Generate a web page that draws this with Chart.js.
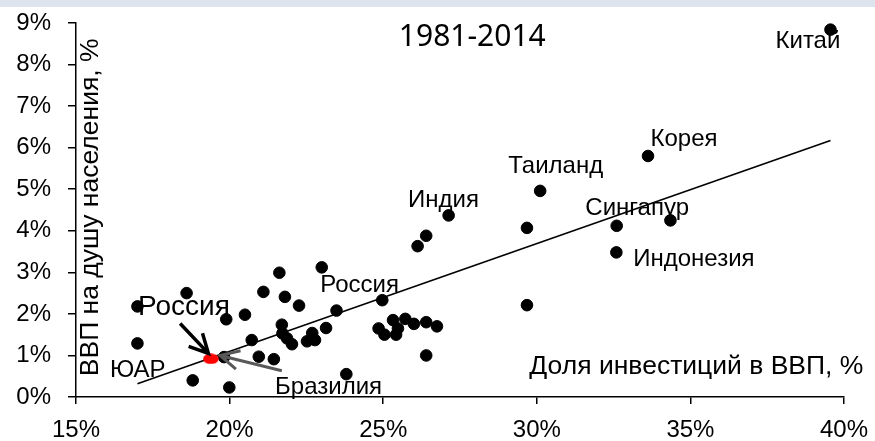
<!DOCTYPE html>
<html>
<head>
<meta charset="utf-8">
<script src="https://cdn.jsdelivr.net/npm/chart.js@4/dist/chart.umd.min.js"></script>
<style>
  html, body { margin: 0; padding: 0; background: #fff; overflow: hidden; }
  canvas { display: block; }
</style>
</head>
<body>
<canvas id="invChart" width="875" height="441"></canvas>
<script>
// Доля инвестиций в ВВП (%), рост ВВП на душу населения (%) — 1981-2014
const invX = [17.0, 17.0, 18.6, 18.8, 19.82, 19.89, 19.99, 20.5, 20.72, 20.95,
    21.1, 21.44, 21.62, 21.8, 21.7, 21.72, 21.87, 22.03, 22.26, 22.52,
    22.69, 22.78, 23.0, 23.14, 23.48, 23.8, 24.97, 24.85, 25.04, 25.32,
    25.42, 25.48, 25.72, 26.0, 26.4, 26.75, 26.4, 26.12, 26.4, 27.13,
    29.68, 29.68, 30.11, 32.6, 32.59, 33.62, 34.35, 39.56];
const growthY = [2.18, 1.29, 2.50, 0.40, 0.96, 1.87, 0.23, 1.98, 1.37, 0.97,
    2.53, 0.91, 2.99, 2.41, 1.74, 1.53, 1.41, 1.27, 2.20, 1.34,
    1.54, 1.37, 3.12, 1.66, 2.08, 0.55, 2.33, 1.65, 1.50, 1.85,
    1.50, 1.65, 1.88, 1.76, 1.80, 1.70, 1.00, 3.63, 3.88, 4.37,
    4.07, 2.21, 4.96, 4.12, 3.48, 5.80, 4.25, 8.84];

// Россия (выделена красным)
const russiaX = [19.39];
const russiaY = [0.92];

// линия тренда
const trendX = [17.0, 39.56];
const trendY = [0.32, 6.17];

const xTicks = [15, 20, 25, 30, 35, 40];
const yTicks = [0, 1, 2, 3, 4, 5, 6, 7, 8, 9];

// подписи стран: [текст, x, y, размер]
const countryLabels = [
    ['Китай', 37.77, 8.55, 24],
    ['Корея', 33.70, 6.19, 24],
    ['Таиланд', 29.07, 5.56, 24],
    ['Индия', 25.81, 4.74, 24],
    ['Сингапур', 31.58, 4.55, 24],
    ['Индонезия', 33.14, 3.32, 24],
    ['Россия', 22.95, 2.69, 24],
    ['Россия', 17.02, 2.15, 28],
    ['ЮАР', 16.11, 0.64, 24],
    ['Бразилия', 21.48, 0.23, 24],
];

// стрелки: [x0, y0, x1 (остриё), y1, цвет, толщина]
const arrows = [
    [18.39, 1.77, 19.31, 1.05, '#000000', 3.5],
    [21.70, 0.63, 19.69, 1.00, '#595959', 3],
];

const FONT = "'Liberation Sans', Arial, sans-serif";

const toXY = (xs, ys) => xs.map((x, i) => ({ x, y: ys[i] }));

// красный овал для России
const redDot = document.createElement('canvas');
redDot.width = 16;
redDot.height = 11;
{
    const c = redDot.getContext('2d');
    c.fillStyle = '#ff0000';
    c.beginPath();
    c.ellipse(8, 5.5, 7.8, 5.3, 0, 0, Math.PI * 2);
    c.fill();
}

function drawArrow(ctx, x0, y0, x1, y1, color, width) {
    const ang = Math.atan2(y0 - y1, x0 - x1);
    const head = 21, spread = 27 * Math.PI / 180;
    ctx.save();
    ctx.strokeStyle = color;
    ctx.lineWidth = width;
    ctx.lineCap = 'butt';
    ctx.beginPath();
    ctx.moveTo(x0, y0);
    ctx.lineTo(x1, y1);
    ctx.moveTo(x1 + head * Math.cos(ang + spread), y1 + head * Math.sin(ang + spread));
    ctx.lineTo(x1, y1);
    ctx.lineTo(x1 + head * Math.cos(ang - spread), y1 + head * Math.sin(ang - spread));
    ctx.stroke();
    ctx.restore();
}

const decorPlugin = {
    id: 'decor',
    beforeDraw(chart) {
        const ctx = chart.ctx;
        ctx.save();
        ctx.fillStyle = '#dde4ee';
        ctx.fillRect(0, 0, chart.width, 7);
        ctx.restore();
    },
    afterDatasetsDraw(chart) {
        const ctx = chart.ctx;
        const xs = chart.scales.x, ys = chart.scales.y;
        ctx.save();
        ctx.fillStyle = '#000';
        ctx.textBaseline = 'middle';
        ctx.textAlign = 'left';
        countryLabels.forEach(([t, x, y, size]) => {
            ctx.font = size + 'px ' + FONT;
            ctx.fillText(t, xs.getPixelForValue(x), ys.getPixelForValue(y));
        });

        // заголовок
        ctx.font = "30px 'Noto Sans', 'DejaVu Sans', sans-serif";
        ctx.textAlign = 'center';
        ctx.fillText('1981-2014', xs.getPixelForValue(27.9), ys.getPixelForValue(8.65));

        // подпись оси X (внутри области графика)
        ctx.font = '26.5px ' + FONT;
        ctx.textAlign = 'right';
        ctx.fillText('Доля инвестиций в ВВП, %', xs.getPixelForValue(40.63), ys.getPixelForValue(0.72));

        // подпись оси Y
        ctx.translate(xs.getPixelForValue(15.49), ys.getPixelForValue(0.5));
        ctx.rotate(-Math.PI / 2);
        ctx.textAlign = 'left';
        ctx.fillText('ВВП на душу населения, %', 0, 0);
        ctx.restore();

        arrows.forEach(([x0, y0, x1, y1, color, w]) => {
            drawArrow(ctx, xs.getPixelForValue(x0), ys.getPixelForValue(y0),
                xs.getPixelForValue(x1), ys.getPixelForValue(y1), color, w);
        });
    }
};

const ctx = document.getElementById('invChart').getContext('2d');
new Chart(ctx, {
    type: 'scatter',
    data: {
        datasets: [{
            data: toXY(russiaX, russiaY),
            pointStyle: redDot,
            pointRadius: 8,
            order: 0,
        }, {
            data: toXY(invX, growthY),
            backgroundColor: '#000',
            borderColor: '#000',
            borderWidth: 1,
            pointRadius: 5.8,
            order: 1,
        }, {
            type: 'line',
            data: toXY(trendX, trendY),
            borderColor: '#000',
            borderWidth: 1.6,
            pointRadius: 0,
            fill: false,
            order: 2,
        }]
    },
    plugins: [decorPlugin],
    options: {
        responsive: false,
        animation: false,
        events: [],
        layout: { autoPadding: false, padding: { top: 23, right: 31, left: 0, bottom: 0 } },
        plugins: { legend: { display: false }, tooltip: { enabled: false } },
        scales: {
            x: {
                type: 'linear',
                min: 15, max: 40,
                afterBuildTicks: s => { s.ticks = xTicks.map(v => ({ value: v })); },
                afterFit: s => { s.height = 44; s.paddingLeft = 0; s.paddingRight = 0; },
                ticks: { color: '#000', font: { size: 24, family: FONT }, padding: 12, callback: v => v + '%' },
                grid: { drawOnChartArea: false, drawTicks: true, tickLength: 7, color: '#000', lineWidth: 1.5 },
                border: { color: '#000', width: 1.5 },
            },
            y: {
                type: 'linear',
                min: 0, max: 9,
                afterBuildTicks: s => { s.ticks = yTicks.map(v => ({ value: v })); },
                afterFit: s => { s.width = 76; s.paddingTop = 0; s.paddingBottom = 0; },
                ticks: { color: '#000', font: { size: 24, family: FONT }, padding: 17, callback: v => v + '%' },
                grid: { drawOnChartArea: false, drawTicks: true, tickLength: 8, color: '#000', lineWidth: 1.5 },
                border: { color: '#000', width: 1.5 },
            }
        }
    }
});
</script>
</body>
</html>
